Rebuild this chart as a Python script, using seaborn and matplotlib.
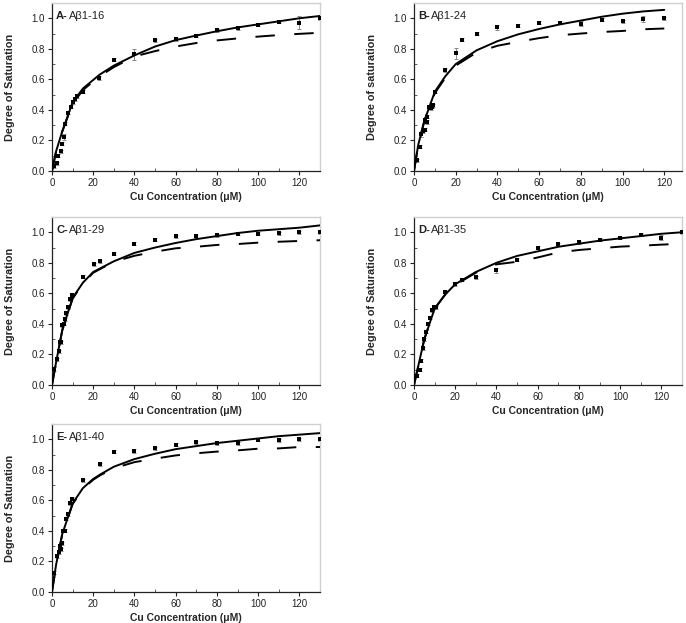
import matplotlib
matplotlib.use('Agg')
import matplotlib.pyplot as plt
import numpy as np
import pandas as pd
import seaborn as sns
from matplotlib.ticker import MultipleLocator

sns.set_style('ticks')
plt.rcParams['font.family'] = ['Liberation Sans', 'DejaVu Sans']

# Panel A - Abeta1-16
a_x = [1, 2.4, 3, 4.2, 4.9, 5.8, 6.5, 8, 9, 10, 11, 12, 15, 23, 30, 40, 50, 60, 70, 80, 90, 100, 110, 120, 130]
a_y = [0.03, 0.05, 0.10, 0.13, 0.18, 0.22, 0.31, 0.38, 0.42, 0.45, 0.47, 0.49, 0.52, 0.61, 0.73, 0.765,
       0.857, 0.863, 0.885, 0.92, 0.935, 0.957, 0.978, 0.972, 1.0]
a_err = [0.01, 0.01, 0.01, 0.01, 0.01, 0.02, 0.01, 0.01, 0.01, 0.01, 0.01, 0.01, 0.01, 0.015, 0.01, 0.035,
         0.01, 0.01, 0.01, 0.01, 0.01, 0.01, 0.01, 0.04, 0.01]
a_fit_x = [0, 2, 5, 10, 15, 23, 30, 40, 50, 60, 70, 80, 90, 100, 110, 120, 130]
a_fit_y = [0, 0.13, 0.26, 0.45, 0.54, 0.63, 0.69, 0.757, 0.815, 0.857, 0.887, 0.915, 0.94, 0.96, 0.98, 1.0, 1.015]
a_dash_y = [0, 0.13, 0.26, 0.44, 0.53, 0.62, 0.68, 0.75, 0.785, 0.815, 0.838, 0.855, 0.868, 0.88, 0.89, 0.898, 0.905]

# Panel B - Abeta1-24
b_x = [1.4, 2.9, 3.4, 4.5, 5.3, 5.4, 6.2, 6.4, 7, 8, 8.6, 9.3, 10.2, 15, 20, 23.2, 30, 40, 50, 60, 70, 80, 90, 100, 110, 120]
b_y = [0.07, 0.16, 0.24, 0.26, 0.27, 0.335, 0.355, 0.32, 0.42, 0.41, 0.42, 0.43, 0.52, 0.66, 0.77, 0.86,
       0.90, 0.94, 0.95, 0.97, 0.97, 0.965, 0.99, 0.98, 0.995, 1.0]
b_err = [0.01, 0.01, 0.015, 0.01, 0.01, 0.01, 0.01, 0.015, 0.01, 0.01, 0.01, 0.01, 0.01, 0.015, 0.035, 0.01,
         0.01, 0.015, 0.01, 0.01, 0.01, 0.015, 0.01, 0.01, 0.02, 0.01]
b_fit_x = [0, 2, 5, 10, 15, 20, 30, 40, 50, 60, 70, 80, 90, 100, 110, 120]
b_fit_y = [0, 0.17, 0.33, 0.52, 0.62, 0.70, 0.79, 0.85, 0.895, 0.93, 0.96, 0.985, 1.01, 1.03, 1.045, 1.055]
b_dash_y = [0, 0.17, 0.33, 0.51, 0.61, 0.69, 0.776, 0.82, 0.846, 0.87, 0.889, 0.90, 0.91, 0.917, 0.928, 0.933]

# Panel C - Abeta1-29
c_x = [1, 2.4, 3.2, 3.9, 4.5, 5, 5.8, 6.5, 7, 7.8, 8.9, 9.9, 15, 20.3, 23.5, 30, 40, 50, 60, 70, 80, 90, 100, 110, 120, 130]
c_y = [0.105, 0.17, 0.22, 0.28, 0.28, 0.39, 0.40, 0.43, 0.47, 0.51, 0.56, 0.59, 0.71, 0.79, 0.81, 0.86,
       0.925, 0.95, 0.975, 0.975, 0.98, 0.99, 0.99, 0.995, 1.0, 1.0]
c_err = [0.01] * len(c_x)
c_fit_x = [0, 2, 5, 10, 15, 20, 30, 40, 50, 60, 70, 80, 90, 100, 110, 120, 130]
c_fit_y = [0, 0.15, 0.36, 0.57, 0.67, 0.74, 0.81, 0.865, 0.90, 0.93, 0.955, 0.975, 0.995, 1.01, 1.02, 1.03, 1.045]
c_dash_y = [0, 0.15, 0.36, 0.565, 0.665, 0.735, 0.807, 0.846, 0.873, 0.895, 0.905, 0.917, 0.923, 0.932, 0.938, 0.943, 0.948]

# Panel D - Abeta1-35
d_x = [0.6, 1.3, 2.3, 2.9, 3.6, 4.4, 5, 6, 6.8, 7.8, 8.7, 9.7, 10.7, 15, 20, 23.3, 30, 40, 50, 60, 70, 80, 90, 100, 110, 120, 130]
d_y = [0.06, 0.06, 0.10, 0.10, 0.16, 0.24, 0.30, 0.35, 0.40, 0.44, 0.49, 0.51, 0.51, 0.61, 0.66, 0.69,
       0.705, 0.75, 0.82, 0.90, 0.92, 0.935, 0.95, 0.965, 0.985, 0.965, 1.0]
d_err = [0.01] * 17 + [0.015] + [0.01] * 7 + [0.015, 0.01]
d_fit_x = [0, 2, 5, 10, 15, 20, 30, 40, 50, 60, 70, 80, 90, 100, 110, 120, 130]
d_fit_y = [0, 0.12, 0.30, 0.50, 0.59, 0.66, 0.74, 0.80, 0.845, 0.875, 0.905, 0.925, 0.945, 0.96, 0.975, 0.99, 1.0]
d_dash_y = [0, 0.12, 0.30, 0.50, 0.59, 0.655, 0.735, 0.79, 0.807, 0.835, 0.868, 0.884, 0.895, 0.906, 0.912, 0.919, 0.925]

# Panel E - Abeta1-40
e_x = [1, 2.4, 3.2, 3.7, 4.4, 5, 5.4, 6.2, 6.6, 8, 8.9, 9.9, 15, 23.5, 30, 40, 50, 60, 70, 80, 90, 100, 110, 120, 130]
e_y = [0.127, 0.235, 0.26, 0.30, 0.28, 0.32, 0.40, 0.40, 0.48, 0.51, 0.58, 0.61, 0.73, 0.835, 0.917, 0.923,
       0.94, 0.963, 0.98, 0.974, 0.974, 0.996, 0.993, 1.0, 1.0]
e_err = [0.01] * len(e_x)
e_fit_x = [0, 2, 5, 10, 15, 20, 23.5, 30, 40, 50, 60, 70, 80, 90, 100, 110, 120, 130]
e_fit_y = [0, 0.18, 0.38, 0.58, 0.68, 0.74, 0.77, 0.82, 0.87, 0.905, 0.935, 0.955, 0.975, 0.99, 1.005, 1.02, 1.03, 1.04]
e_dash_y = [0, 0.18, 0.38, 0.575, 0.675, 0.735, 0.765, 0.81, 0.85, 0.873, 0.894, 0.908, 0.919, 0.927, 0.938, 0.94, 0.949, 0.949]

panels = [
    ('A-', 'A\u03b21-16', 'Degree of Saturation', a_x, a_y, a_err, a_fit_x, a_fit_y, a_dash_y, 130),
    ('B-', 'A\u03b21-24', 'Degree of saturation', b_x, b_y, b_err, b_fit_x, b_fit_y, b_dash_y, 128.5),
    ('C-', 'A\u03b21-29', 'Degree of Saturation', c_x, c_y, c_err, c_fit_x, c_fit_y, c_dash_y, 130),
    ('D-', 'A\u03b21-35', 'Degree of Saturation', d_x, d_y, d_err, d_fit_x, d_fit_y, d_dash_y, 130),
    ('E-', 'A\u03b21-40', 'Degree of Saturation', e_x, e_y, e_err, e_fit_x, e_fit_y, e_dash_y, 130),
]

# axes positions [left, bottom, width, height] in figure fractions
positions = [
    [0.0758, 0.7255, 0.3907, 0.2697],
    [0.6035, 0.7255, 0.3907, 0.2697],
    [0.0758, 0.3820, 0.3907, 0.2697],
    [0.6035, 0.3820, 0.3907, 0.2697],
    [0.0758, 0.0498, 0.3907, 0.2697],
]

fig = plt.figure(figsize=(6.86, 6.23), dpi=100)

for pos, (tag, name, ylab, x, y, err, fx, fy, dy, xmax) in zip(positions, panels):
    ax = fig.add_axes(pos)
    fit = pd.DataFrame({'x': fx, 'fit': fy, 'dash': dy})
    pts = pd.DataFrame({'x': x, 'y': y, 'err': err})

    ax.errorbar(pts['x'], pts['y'], yerr=pts['err'], fmt='none', ecolor='#888888',
                elinewidth=0.7, capsize=1.5, capthick=0.7, zorder=2)
    sns.lineplot(data=fit, x='x', y='dash', ax=ax, color='black', lw=1.4,
                 dashes=(10, 10), sort=False, zorder=3)
    sns.lineplot(data=fit, x='x', y='fit', ax=ax, color='black', lw=1.4, sort=False, zorder=4)
    sns.scatterplot(data=pts, x='x', y='y', ax=ax, marker='s', s=9, color='black',
                    edgecolor='black', linewidth=0, zorder=5)

    ax.set_xlim(0, xmax)
    ax.set_ylim(0, 1.1)
    ax.xaxis.set_major_locator(MultipleLocator(20))
    ax.xaxis.set_minor_locator(MultipleLocator(10))
    ax.yaxis.set_major_locator(MultipleLocator(0.2))
    ax.yaxis.set_minor_locator(MultipleLocator(0.1))
    ax.yaxis.set_major_formatter(matplotlib.ticker.FormatStrFormatter('%.1f'))
    ax.tick_params(which='major', direction='out', length=3, width=0.8, labelsize=7,
                   colors='#222222', pad=2)
    ax.tick_params(which='minor', direction='in', length=2, width=0.6, colors='#444444')

    for side in ['left', 'bottom']:
        ax.spines[side].set_color('#222222')
        ax.spines[side].set_linewidth(0.9)
    for side in ['top', 'right']:
        ax.spines[side].set_color('#d0d0d0')
        ax.spines[side].set_linewidth(1.0)

    ax.set_xlabel('Cu Concentration (\u03bcM)', fontsize=7.5, fontweight='bold', labelpad=3)
    ax.set_ylabel(ylab, fontsize=7.8, fontweight='bold', labelpad=12)

    ax.text(0.015, 0.955, tag, transform=ax.transAxes, fontsize=8, fontweight='bold',
            va='top', ha='left', color='#222222')
    ax.text(0.015 + 0.047, 0.955, name, transform=ax.transAxes, fontsize=8,
            va='top', ha='left', color='#222222')

fig.savefig('out.png', dpi=100)
